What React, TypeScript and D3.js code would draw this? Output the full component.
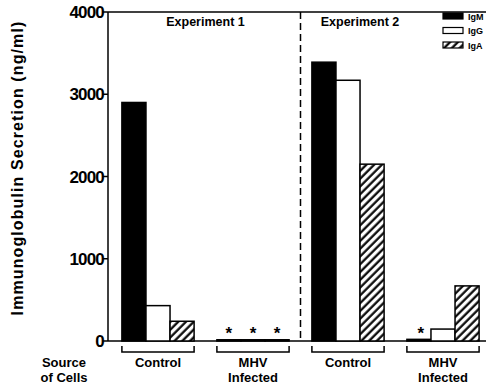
import React from "react";
import * as d3 from "d3";

const groups = ["Control", "MHV Infected", "Control ", "MHV Infected "];
const groupLabels = [["Control"], ["MHV", "Infected"], ["Control"], ["MHV", "Infected"]];
const series = ["IgM", "IgG", "IgA"];
const igM = [2900, 15, 3390, 20];
const igG = [430, 15, 3170, 145];
const igA = [240, 15, 2150, 670];
const yTicks = [0, 1000, 2000, 3000, 4000];
const experiments = ["Experiment 1", "Experiment 2"];
// asterisk flags: [group, seriesIndex]
const asterisks: [number, number][] = [[1, 0], [1, 1], [1, 2], [3, 0]];

const W = 486, H = 387;
const FONT = "'Liberation Sans', Arial, Helvetica, sans-serif";

export default function App() {
  const y = d3.scaleLinear().domain([0, 4000]).range([341, 12]);
  const x = d3.scaleBand<string>().domain(groups).range([110.5, 490.5]).paddingInner(0.24).paddingOuter(0.12);
  const xs = d3.scaleBand<string>().domain(series).range([0, x.bandwidth()]);
  const values = [igM, igG, igA];
  const fills = ["#000", "#fff", "url(#hatch)"];
  const axisX = 108;
  const dashX = (x(groups[1])! + x.bandwidth() + x(groups[2])!) / 2;

  return (
    <svg width={W} height={H} style={{ position: "absolute", left: 0, top: 0, background: "#fff" }} fontFamily={FONT}>
      <defs>
        <pattern id="hatch" patternUnits="userSpaceOnUse" width={5.5} height={5.5} patternTransform="rotate(45)">
          <rect width={5.5} height={5.5} fill="#fff" />
          <line x1={1.5} y1={0} x2={1.5} y2={5.5} stroke="#000" strokeWidth={2.2} />
        </pattern>
      </defs>
      {/* Y title */}
      <text transform="translate(23,168) rotate(-90)" textAnchor="middle" fontSize={16} fontWeight="bold" letterSpacing={1.1}>
        Immunoglobulin Secretion (ng/ml)
      </text>
      {/* frame */}
      <line x1={axisX} x2={W} y1={12} y2={12} stroke="#000" strokeWidth={1.5} />
      <line x1={axisX} x2={axisX} y1={12} y2={341} stroke="#000" strokeWidth={1.5} />
      <line x1={axisX} x2={W} y1={341} y2={341} stroke="#000" strokeWidth={1.5} />
      {yTicks.map((t) => (
        <g key={t}>
          <line x1={axisX - 5} x2={axisX} y1={y(t)} y2={y(t)} stroke="#000" strokeWidth={1.5} />
          <text x={104} y={y(t)} dy="0.36em" textAnchor="end" fontSize={17} fontWeight="bold" letterSpacing={-0.8}>
            {t}
          </text>
        </g>
      ))}
      {/* dashed separator */}
      <line x1={dashX} x2={dashX} y1={12} y2={341} stroke="#000" strokeWidth={1.5} strokeDasharray="7,4" />
      {/* experiment labels */}
      {experiments.map((e, i) => {
        const cx = i === 0 ? (x(groups[0])! + x(groups[1])! + x.bandwidth()) / 2 : x(groups[2])! + x.bandwidth() / 2 + 12;
        return (
          <text key={e} x={cx} y={26} textAnchor="middle" fontSize={12.5} fontWeight="bold">
            {e}
          </text>
        );
      })}
      {/* bars */}
      {groups.map((g, gi) => (
        <g key={g}>
          {series.map((s, si) => {
            const v = values[si][gi];
            const x0 = x(g)! + xs(s)!;
            return (
              <rect key={s} x={x0} y={y(v)} width={xs.bandwidth()} height={y(0) - y(v)} fill={fills[si]} stroke="#000" strokeWidth={1.5} />
            );
          })}
        </g>
      ))}
      {asterisks.map(([gi, si], k) => (
        <text key={k} x={x(groups[gi])! + xs(series[si])! + xs.bandwidth() / 2 + (gi === 3 ? 2 : 0)} y={339} textAnchor="middle" fontSize={17} fontWeight="bold">
          *
        </text>
      ))}
      {/* brackets + labels */}
      {groups.map((g, gi) => {
        const x0 = x(g)!;
        const x1 = x0 + x.bandwidth();
        return (
          <g key={"b" + gi}>
            <path d={`M${x0},346V352H${x1}V346`} fill="none" stroke="#000" strokeWidth={1.5} />
            {groupLabels[gi].map((l, li) => (
              <text key={l} x={(x0 + x1) / 2} y={367 + li * 15} textAnchor="middle" fontSize={13} fontWeight="bold">
                {l}
              </text>
            ))}
          </g>
        );
      })}
      <text x={64} y={367} textAnchor="middle" fontSize={13} fontWeight="bold">Source</text>
      <text x={64} y={382} textAnchor="middle" fontSize={13} fontWeight="bold">of Cells</text>
      {/* legend */}
      {series.map((s, si) => (
        <g key={"l" + s}>
          <rect x={443} y={13 + si * 14.5} width={20} height={6} fill={fills[si]} stroke="#000" strokeWidth={1.2} />
          <text x={468} y={19.5 + si * 14.5} fontSize={9} fontWeight="bold">{s}</text>
        </g>
      ))}
    </svg>
  );
}
